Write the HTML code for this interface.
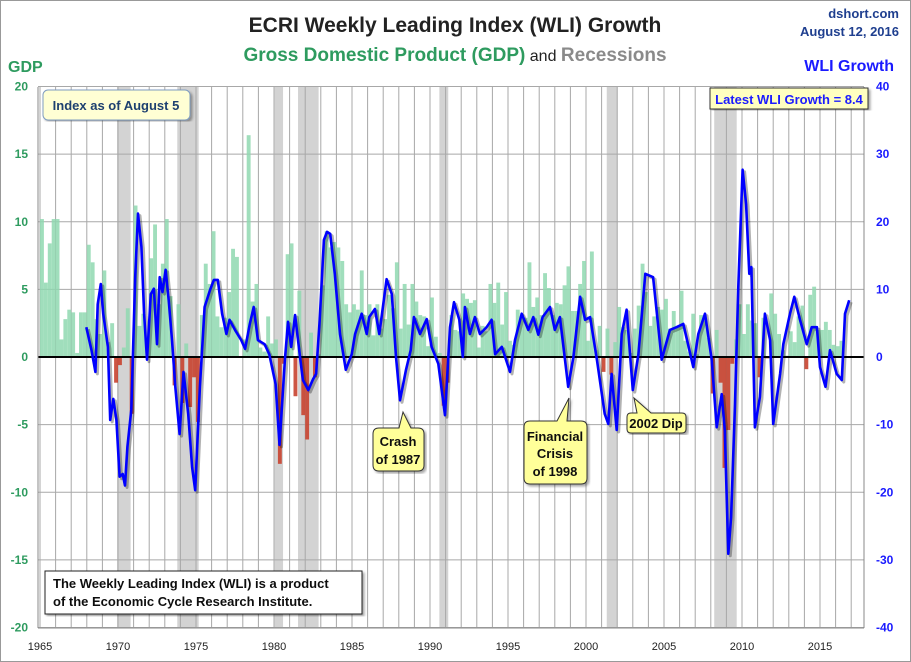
<!DOCTYPE html>
<html><head><meta charset="utf-8">
<style>
body{margin:0;background:#fff;}
#wrap{position:relative;width:911px;height:662px;overflow:hidden;font-family:"Liberation Sans",sans-serif;}
svg text{font-family:"Liberation Sans",sans-serif;}
</style></head>
<body>
<div id="wrap">
<svg id="chart" width="911" height="662" viewBox="0 0 911 662">
<defs>
<filter id="sh" x="-5%" y="-5%" width="110%" height="110%"><feDropShadow dx="2" dy="2" stdDeviation="1.2" flood-color="#000" flood-opacity="0.35"/></filter>
</defs>
<rect x="0.5" y="0.5" width="910" height="661" fill="#fff" stroke="#999"/>
<text x="455" y="32" text-anchor="middle" font-size="21" font-weight="bold" fill="#222">ECRI Weekly Leading Index (WLI) Growth</text>
<text x="455" y="61" text-anchor="middle"><tspan font-size="19" font-weight="bold" fill="#2e9b5f">Gross Domestic Product (GDP)</tspan><tspan font-size="16" fill="#222"> and </tspan><tspan font-size="19" font-weight="bold" fill="#8a8a8a">Recessions</tspan></text>
<text x="899" y="18" text-anchor="end" font-size="13" font-weight="bold" fill="#1f3f8f">dshort.com</text>
<text x="899" y="36" text-anchor="end" font-size="13" font-weight="bold" fill="#1f3f8f">August 12, 2016</text>
<text x="8" y="72" font-size="16" font-weight="bold" fill="#2e9b5f">GDP</text>
<text x="894" y="71" text-anchor="end" font-size="16" font-weight="bold" fill="#1a1aff">WLI Growth</text>
<g id="recg"></g><g id="gridg"></g><g id="barg"></g>
<line x1="38" y1="357" x2="864" y2="357" stroke="#000" stroke-width="2"/>
<g id="lineg"></g>
<line x1="38" y1="87" x2="38" y2="628" stroke="#888"/>
<line x1="864" y1="87" x2="864" y2="628" stroke="#888"/>
<line x1="38" y1="628" x2="864" y2="628" stroke="#888"/>
<g id="tickg"></g>
<g filter="url(#sh)">
<rect x="43" y="90" width="147" height="30" rx="5" fill="#ffffd4" stroke="#7f9cc0"/>
<text x="116" y="110" text-anchor="middle" font-size="13" font-weight="bold" fill="#1f3f6f">Index as of August 5</text></g>
<g filter="url(#sh)">
<rect x="710" y="88" width="158" height="21" fill="#ffffc0" stroke="#333"/>
<text x="789" y="104" text-anchor="middle" font-size="13" font-weight="bold" fill="#1a1aff">Latest WLI Growth = 8.4</text></g>
<g filter="url(#sh)">
<path d="M379,428 L399,428 L403,412 L411,428 L418,428 Q424,428 424,434 L424,465 Q424,471 418,471 L379,471 Q373,471 373,465 L373,434 Q373,428 379,428 Z" fill="#ffff99" stroke="#333"/>
<text x="398" y="446" text-anchor="middle" font-size="13" font-weight="bold" fill="#111">Crash</text>
<text x="398" y="464" text-anchor="middle" font-size="13" font-weight="bold" fill="#111">of 1987</text></g>
<g filter="url(#sh)">
<path d="M530,421 L557,421 L569,398 L567,421 L581,421 Q587,421 587,427 L587,478 Q587,484 581,484 L530,484 Q524,484 524,478 L524,427 Q524,421 530,421 Z" fill="#ffff99" stroke="#333"/>
<text x="555" y="441" text-anchor="middle" font-size="13" font-weight="bold" fill="#111">Financial</text>
<text x="555" y="458" text-anchor="middle" font-size="13" font-weight="bold" fill="#111">Crisis</text>
<text x="555" y="476" text-anchor="middle" font-size="13" font-weight="bold" fill="#111">of 1998</text></g>
<g filter="url(#sh)">
<path d="M631,413 L637,413 L634,398 L651,413 L682,413 Q686,413 686,417 L686,429 Q686,433 682,433 L631,433 Q627,433 627,429 L627,417 Q627,413 631,413 Z" fill="#ffff99" stroke="#333"/>
<text x="656" y="428" text-anchor="middle" font-size="13" font-weight="bold" fill="#111">2002 Dip</text></g>
<g filter="url(#sh)">
<rect x="45" y="571" width="317" height="43" fill="#fff" stroke="#222"/>
<text x="53" y="588" font-size="13" font-weight="bold" fill="#111">The Weekly Leading Index (WLI) is a product</text>
<text x="53" y="606" font-size="13" font-weight="bold" fill="#111">of the Economic Cycle Research Institute.</text></g>
</svg>
</div>
<script>
const gdpStartYear = 1965;
const gdpValues = [
10.2,5.5,8.4,10.2, 10.2,1.3,2.8,3.5, 3.3,0.3,3.3,3.3, 8.3,7.0,2.8,1.7, 6.4,1.1,2.5,-1.9,
-0.6,0.7,3.6,-4.2, 11.2,2.3,3.2,1.1, 7.3,9.8,3.9,6.9, 10.2,4.5,-2.1,3.9, -3.4,1.0,-3.7,-1.5,
-4.8,3.1,6.9,5.4, 9.3,3.0,2.2,2.9, 4.8,8.0,7.4,0.0, 1.3,16.4,4.1,5.4, 0.7,0.4,3.0,1.0,
1.3,-7.9,-0.5,7.6, 8.4,-2.9,4.9,-4.3, -6.1,1.8,-1.5,0.2, 5.3,9.3,8.1,8.5, 8.1,7.1,3.9,3.3,
3.9,3.5,6.4,3.1, 3.9,1.6,3.9,2.1, 2.8,4.6,3.6,7.0, 2.1,5.4,2.4,5.4, 4.1,3.1,3.0,0.8,
4.4,1.5,0.3,-3.6, -1.9,3.1,2.0,1.9, 4.7,4.3,4.0,4.2, 0.7,2.3,1.9,5.4, 4.0,5.5,2.4,4.8,
1.2,0.9,3.5,3.0, 2.9,7.0,3.7,4.4, 3.1,6.2,5.1,3.1, 4.0,3.9,5.3,6.7, 3.4,3.4,5.4,7.1,
1.2,7.8,0.5,2.3, -1.1,2.1,-1.3,1.1, 3.7,2.2,2.0,0.3, 2.1,3.8,6.9,4.8, 2.3,3.0,3.7,3.5,
4.3,2.1,3.4,2.3, 4.9,1.2,0.4,3.2, 0.2,3.1,2.7,1.4, -2.7,2.0,-1.9,-8.2, -5.4,-0.5,1.3,3.9,
1.7,3.9,2.7,2.5, -1.5,2.9,-0.1,4.7, 3.2,1.7,0.5,0.1, 1.9,1.1,3.0,3.8, -0.9,4.6,5.2,2.0,
2.0,2.6,2.0,0.9, 0.8,1.2];
const wliYears = [1967.97,1968.3,1968.55,1968.7,1968.9,1969.05,1969.35,1969.5,1969.7,1969.9,1970.1,1970.3,1970.45,1970.6,1970.85,1971.1,1971.28,1971.5,1971.67,1971.86,1972.1,1972.3,1972.5,1972.67,1972.85,1973.05,1973.25,1973.46,1973.67,1973.95,1974.2,1974.5,1974.75,1974.95,1975.25,1975.55,1975.9,1976.15,1976.4,1976.67,1976.95,1977.15,1977.5,1977.9,1978.15,1978.45,1978.7,1978.97,1979.4,1979.7,1980.1,1980.35,1980.7,1980.9,1981.1,1981.35,1981.65,1981.85,1982.2,1982.5,1982.7,1982.93,1983.2,1983.4,1983.6,1983.9,1984.23,1984.6,1984.98,1985.2,1985.62,1985.94,1986.1,1986.47,1986.75,1987.22,1987.55,1987.82,1988.08,1988.46,1988.76,1988.97,1989.36,1989.79,1990.1,1990.53,1990.96,1991.28,1991.54,1991.88,1992.1,1992.24,1992.56,1992.88,1993.2,1993.63,1993.95,1994.17,1994.6,1995.13,1995.45,1995.88,1996.3,1996.62,1996.94,1997.22,1997.69,1998.0,1998.33,1998.86,1999.19,1999.62,1999.94,2000.26,2000.7,2001.2,2001.43,2001.64,2001.97,2002.29,2002.6,2003.0,2003.36,2003.8,2004.3,2004.85,2005.38,2005.8,2006.24,2006.88,2007.2,2007.63,2008.06,2008.38,2008.7,2008.9,2009.12,2009.3,2009.55,2009.76,2010.04,2010.26,2010.47,2010.6,2010.83,2011.15,2011.47,2011.8,2012.0,2012.44,2012.65,2013.08,2013.35,2013.72,2014.15,2014.47,2014.8,2015.0,2015.35,2015.64,2016.07,2016.4,2016.6,2016.87];
const wliValues = [4.4,1.0,-2.2,7.8,10.8,6.4,1.5,-9.3,-6.2,-9.3,-17.7,-17.3,-19,-13.3,-7.8,11.8,21.2,16.3,6.4,-0.4,9.3,10.1,1.9,11.8,9.6,12.9,8.4,2.5,-4.4,-11.4,-2.2,-8.4,-16.3,-19.7,-4.4,7.4,9.9,11.4,11.4,6.4,3.4,5.5,4.0,2.5,1.2,4.9,7.4,2.5,1.9,0.4,-4.0,-13,-0.4,5.2,1.5,6.2,0.4,-3.4,-4.9,-3.3,-2.5,5.5,17.3,18.5,18.2,12.3,3.4,-1.9,0.4,3.4,6.4,3.4,5.9,7.1,3.4,11.5,9.3,0,-6.4,-1.9,1.0,5.9,3.4,5.6,1.5,-1.0,-8.6,4.4,8.1,5.5,0,7.4,3.4,5.9,3.4,4.4,5.5,0.4,1.5,-2.2,2.5,6.4,4.0,5.9,3.3,5.9,7.4,4.0,5.9,-4.4,0,8.9,5.5,5.9,-0.4,-8.4,-9.9,-2.5,-10.8,3.4,7.0,-4.9,0.4,12.3,11.8,-0.4,4.0,4.4,4.9,-1.5,3.4,6.4,-0.4,-10.4,-5.5,-10.8,-29.1,-23.7,-7,10.4,27.7,22.6,12.3,13.3,-10.4,-5.9,6.4,2.5,-9.9,-2.5,1.9,6.4,8.9,5.5,1.9,4.4,4.4,-1.5,-4.4,1.0,-2.5,-3.4,6.4,8.4];
const recessionStarts = [1969.94,1973.8,1980.04,1981.54,1990.6,2001.33,2008.22];
const recessionEnds = [1970.81,1975.17,1980.58,1982.86,1991.17,2002.03,2009.66];
const xTickLabels = ["1965","1970","1975","1980","1985","1990","1995","2000","2005","2010","2015"];
const gdpTicks = [20,15,10,5,0,-5,-10,-15,-20];
const wliTicks = [40,30,20,10,0,-10,-20,-30,-40];

const NS="http://www.w3.org/2000/svg";
const X0=40, PXY=15.6, YTOP=87, YBOT=628;
const xOf = yr => X0 + (yr-1965)*PXY;
const yG = v => 357 - v*(YBOT-YTOP)/40;
const yW = v => 357 - v*(YBOT-YTOP)/80;
function mk(tag,attrs,parent){const e=document.createElementNS(NS,tag);for(const k in attrs)e.setAttribute(k,attrs[k]);parent.appendChild(e);return e;}

const recg=document.getElementById('recg');
recessionStarts.forEach((s,i)=>{
  const r=mk('rect',{x:xOf(s),y:YTOP,width:xOf(recessionEnds[i])-xOf(s),height:YBOT-YTOP,fill:'#d3d3d3'},recg);
  
  
});
const gridg=document.getElementById('gridg');
for(let y=1965;y<=2017;y++){
  const l=mk('line',{x1:xOf(y),x2:xOf(y),y1:YTOP,y2:YBOT,stroke:'#a8a8a8','stroke-width':1},gridg);
  
  
}
gdpTicks.forEach(v=>{
  const l=mk('line',{x1:38,x2:864,y1:yG(v),y2:yG(v),stroke:'#a8a8a8','stroke-width':1},gridg);
  
  
});
const barg=document.getElementById('barg');
const qw=PXY/4;
gdpValues.forEach((v,i)=>{
  const x=xOf(gdpStartYear+i/4);
  const b=mk('rect',{x:x,y:Math.min(yG(v),357),width:qw,height:Math.abs(yG(v)-357),fill:v>=0?'#8fd8b0':'#c8432f','fill-opacity':v>=0?0.85:0.9},barg);
  
  
});
const lineg=document.getElementById('lineg');
const pts=wliYears.map((y,i)=>xOf(y).toFixed(1)+','+yW(wliValues[i]).toFixed(1)).join(' ');
const shadow=mk('polyline',{points:pts,fill:'none',stroke:'#000','stroke-opacity':0.3,'stroke-width':3,transform:'translate(2,2)','stroke-linejoin':'round'},lineg);


const line=mk('polyline',{points:pts,fill:'none',stroke:'#0000ff','stroke-width':2.6,'stroke-linejoin':'round'},lineg);



const tickg=document.getElementById('tickg');
gdpTicks.forEach(v=>{
  const t=mk('text',{x:28,y:yG(v)+4,'text-anchor':'end','font-size':12,'font-weight':'bold',fill:'#2e9b5f'},tickg);
  t.textContent=v;
  
  
});
wliTicks.forEach(v=>{
  const t=mk('text',{x:876,y:yW(v)+4,'text-anchor':'start','font-size':12,'font-weight':'bold',fill:'#1a1aff'},tickg);
  t.textContent=v;
  
  
});
xTickLabels.forEach(s=>{
  const t=mk('text',{x:xOf(+s),y:650,'text-anchor':'middle','font-size':11,fill:'#222'},tickg);
  t.textContent=s;
  
  
});
</script>
</body></html>
